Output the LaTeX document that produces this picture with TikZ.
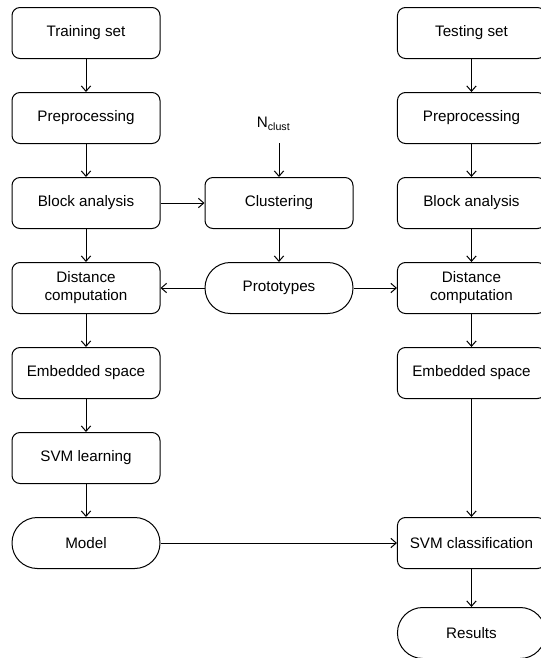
\documentclass[tikz,border=0pt]{standalone}
\usepackage{fontspec}
\setmainfont{Liberation Sans}
\usetikzlibrary{positioning,arrows.meta}
\tikzset{
	every path/.style = {line width=0.75pt},
	>={Straight Barb[length=4pt,width=7pt]},
	node distance=63.75pt,
	block/.style={draw, rectangle, rounded corners=6pt, minimum width=111pt, minimum height=38.25pt, align=center},
	term/.style={block, rounded corners=19pt}
}

\begin{document}
\begin{tikzpicture}[font=\fontsize{11.4}{13.5}\selectfont]
		\useasboundingbox (0,0) rectangle (405pt,-493.5pt);
		% training branch
		\node[block] (train) at (64.5pt,-24.75pt) {Training set};
		\node[block, below of = train] (prel) {Preprocessing};
		\node[block, below of = prel] (bal) {Block analysis};
		\node[block, below of = bal] (dcl) {Distance\\computation};
		\node[block, below of = dcl] (embl) {Embedded space};
		\node[block, below of = embl] (learn) {SVM learning};
		\node[term, below of = learn] (model) {Model};
		% testing branch
		\node[block] (test) at (353.6pt,-24.75pt) {Testing set};
		\node[block, below of = test] (prer) {Preprocessing};
		\node[block, below of = prer] (bar) {Block analysis};
		\node[block, below of = bar] (dcr) {Distance\\computation};
		\node[block, below of = dcr] (embr) {Embedded space};
		\node[block, node distance=127.5pt, below of = embr] (classif) {SVM classification};
		\node[term, node distance=67.5pt, below of = classif] (res) {Results};
		% prototypes
		\node[block, node distance=144.75pt, right of = bal] (clust) {Clustering};
		\node[term, below of = clust] (proto) {Prototypes};
		\coordinate[above=25.5pt of clust.north] (nin);
		\node[above=9pt of nin, inner sep=0pt, xshift=-4pt] (ncl) {N\textsubscript{clust}};
		\path[->]
			(train) edge (prel)
			(prel) edge (bal)
			(bal) edge (dcl)
			(dcl) edge (embl)
			(embl) edge (learn)
			(learn) edge (model)

			(test) edge (prer)
			(prer) edge (bar)
			(bar) edge (dcr)
			(dcr) edge (embr)
			(embr) edge (classif)
			(classif) edge (res)

			(nin) edge (clust)
			(bal) edge (clust)
			(clust) edge (proto)
			(proto) edge (dcl)
			(proto) edge (dcr)
			(model) edge (classif);
	\end{tikzpicture}
\end{document}
